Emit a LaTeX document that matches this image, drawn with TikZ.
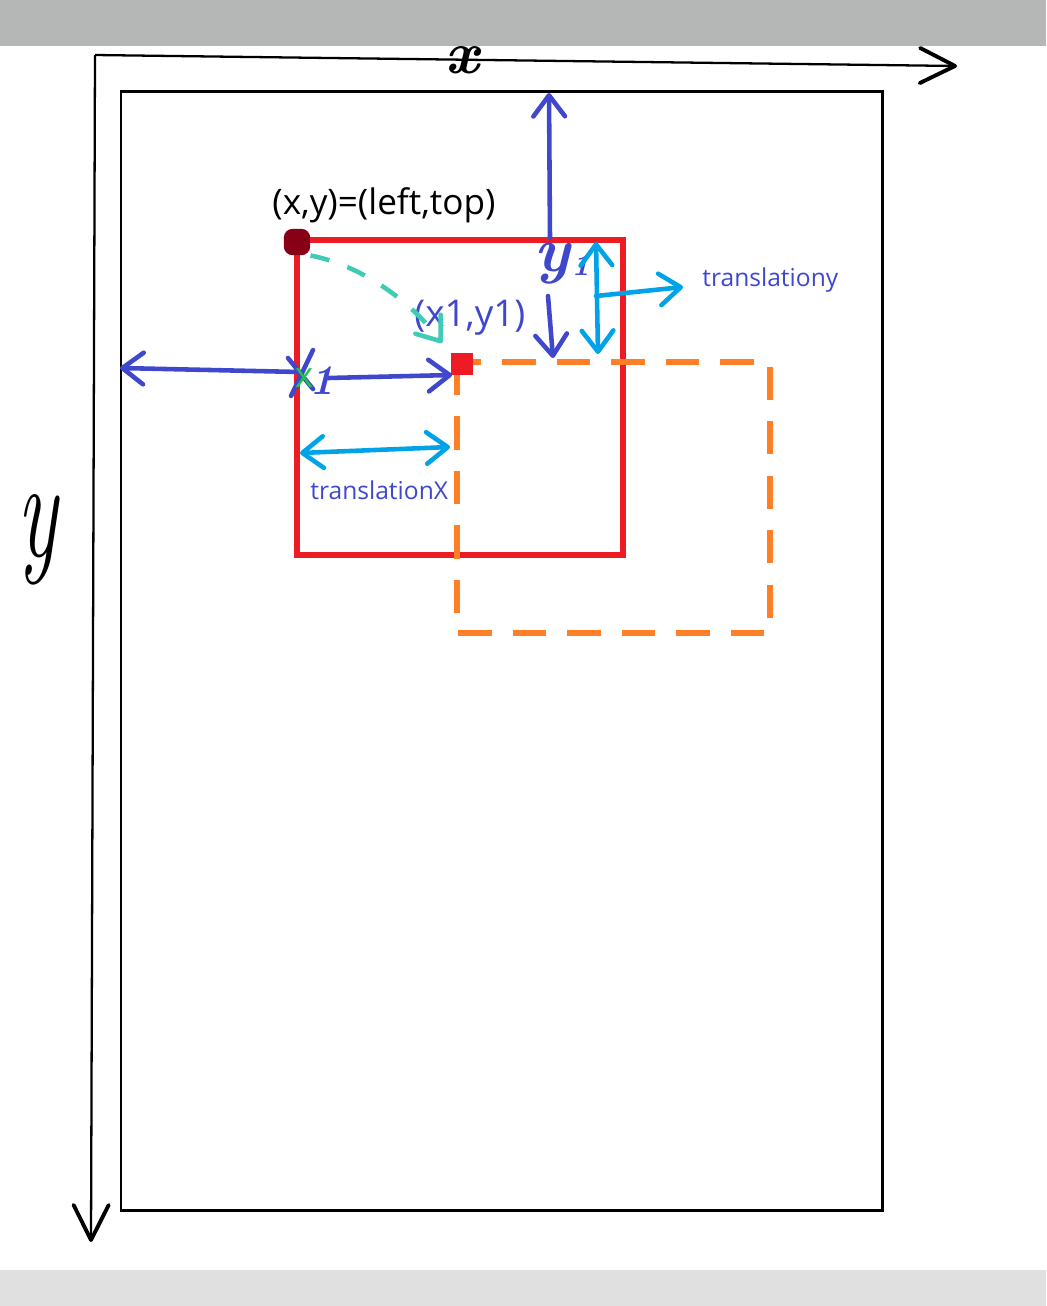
\documentclass[tikz,border=0pt]{standalone}
\usepackage{fontspec}
\newfontfamily\typedfont{Open Sans}
\usetikzlibrary{arrows.meta}
\definecolor{bargray}{HTML}{B5B7B6}
\definecolor{footgray}{HTML}{DFE0DF}
\definecolor{penblue}{HTML}{3F48CC}
\definecolor{pencyan}{HTML}{00A2E8}
\definecolor{penteal}{HTML}{3FCBB5}
\definecolor{penred}{HTML}{ED1C24}
\definecolor{pendarkred}{HTML}{880015}
\definecolor{penorange}{HTML}{FF7F27}
\definecolor{pengreen}{HTML}{22C34A}
\tikzset{
  axishead/.tip={Straight Barb[round,length=20pt,width=20pt,line width=2.2pt]},
  penhead/.tip={Straight Barb[round,length=12pt,width=18pt]},
  axis/.style={draw=black, line width=1.3pt, -axishead},
  pageframe/.style={draw=black, line width=1.7pt},
  oldbox/.style={draw=penred, line width=2.9pt},
  newbox/.style={draw=penorange, line width=3.4pt, dash pattern=on 19pt off 12pt},
  cornerdot/.style={fill=pendarkred, rounded corners=5pt,
    minimum size=15pt, inner sep=0pt},
  cornersquare/.style={fill=penred, minimum size=12.5pt, inner sep=0pt},
  bluepen/.style={draw=penblue, line width=2.6pt, line cap=round, line join=round},
  cyanpen/.style={draw=pencyan, line width=2.6pt, line cap=round, line join=round},
  tealpen/.style={draw=penteal, line width=2.6pt, dash pattern=on 11pt off 11pt},
  typed/.style={font=\typedfont\fontsize{20}{24}\selectfont, inner sep=0pt},
  typedsmall/.style={font=\typedfont\fontsize{14}{17}\selectfont,
    text=penblue, inner sep=0pt},
  hand/.style={inner sep=0pt}
}
\begin{document}
\begin{tikzpicture}[x=0.02cm, y=-0.02cm]
  \useasboundingbox (0,0) rectangle (1046,1306);

  % ==== window bars ====
  \fill[bargray]  (0,0)    rectangle (1046,46);
  \fill[footgray] (0,1270) rectangle (1046,1306);

  % ==== axes ====
  \coordinate (origin) at (95,55);
  \coordinate (xtip)   at (957,66);
  \coordinate (ytip)   at (91,1242);
  \draw[axis] (origin) -- (xtip);
  \draw[axis] (origin) -- (ytip);
  \node[hand, font=\fontsize{34}{34}\selectfont\bfseries\itshape] (xname) at (462,60) {x};
  \node[hand, font=\fontsize{80}{80}\selectfont\itshape, xscale=0.6] (yname) at (38,540) {y};

  % ==== page and boxes ====
  \coordinate (pageNW) at (121,91);
  \coordinate (pageSE) at (882,1210);
  \draw[pageframe] (pageNW) rectangle (pageSE);

  \coordinate (oldNW) at (297,240);
  \coordinate (oldSE) at (623,555);
  \coordinate (newNW) at (457,362);
  \coordinate (newSE) at (770,633);
  \draw[oldbox] (oldNW) rectangle (oldSE);
  \draw[newbox] (newNW) rectangle (newSE);

  \node[cornerdot]    (pTL) at (297,242) {};
  \node[cornersquare] (p1)  at (462,364) {};

  \node[typed, anchor=west] (xylabel) at (272,205) {(x,y)=(left,top)};
  \node[typed, text=penblue, font=\typedfont\fontsize{21}{25}\selectfont,
    anchor=west] (x1y1label) at (414,318) {(x1,y1)};

  % ==== moved corner ====
  \coordinate (moveEnd) at (442,343);
  \draw[tealpen, -penhead] (pTL.south east) .. controls (360,265) and (410,300) .. (moveEnd);

  % ==== x1 distance ====
  \coordinate (xMark)    at (300,372);
  \coordinate (pageLeft) at (120,368);
  \coordinate (xOneMark) at (328,378);
  \coordinate (xOneEnd)  at (452,375);
  \draw[bluepen, -penhead] (xMark) -- (pageLeft);
  \draw[bluepen, -penhead] (xOneMark) -- (xOneEnd);
  \draw[bluepen] (288,358) -- (313,389) (313,350) -- (291,396);
  \node[hand, text=pengreen, font=\typedfont\fontsize{20}{20}\selectfont] (xgreen) at (304,378) {x};
  \node[hand, text=penblue, font=\fontsize{24}{24}\selectfont\bfseries\itshape] (xone) at (322,381) {1};

  % ==== y1 distance ====
  \coordinate (yBase)    at (550,238);
  \coordinate (pageTop)  at (549,93);
  \coordinate (yOneMark) at (548,296);
  \coordinate (yOneEnd)  at (553,358);
  \draw[bluepen, -penhead] (yBase) -- (pageTop);
  \draw[bluepen, -penhead] (yOneMark) -- (yOneEnd);
  \node[hand, text=penblue, font=\fontsize{36}{36}\selectfont\bfseries\itshape]
    (yname1) at (562,264) {y\kern1pt\raisebox{-2pt}{\fontsize{18}{18}\selectfont 1}};

  % ==== translations ====
  \coordinate (tyTop) at (596,242);
  \coordinate (tyBot) at (598,354);
  \coordinate (tyMid) at (596,296);
  \coordinate (tyOut) at (683,287);
  \draw[cyanpen, penhead-penhead] (tyTop) -- (tyBot);
  \draw[cyanpen, -penhead] (tyMid) -- (tyOut);
  \node[typedsmall, anchor=west] (tylabel) at (702,280) {translationy};

  \coordinate (txLeft)  at (300,453);
  \coordinate (txRight) at (450,447);
  \draw[cyanpen, penhead-penhead] (txLeft) -- (txRight);
  \node[typedsmall, anchor=west] (txlabel) at (310,490) {translationX};
\end{tikzpicture}
\end{document}
